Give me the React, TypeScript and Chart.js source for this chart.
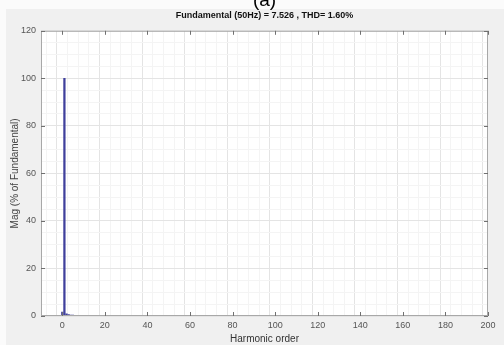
import React, { useEffect, useRef } from "react";
import { Chart, registerables } from "chart.js";

Chart.register(...registerables);

const harmonicOrders = [0, 1, 2, 3, 4, 5, 6, 7, 8, 9, 10];
const magnitudes = [1.6, 100, 0.9, 0.6, 0.4, 0.4, 0.2, 0.15, 0.1, 0.1, 0.1];
const panelLabel = "(a)";
const chartTitle = "Fundamental (50Hz) = 7.526 , THD= 1.60%";
const xTitle = "Harmonic order";
const yTitle = "Mag (% of Fundamental)";

const FONT = "'Liberation Sans', Arial, sans-serif";

const bgPlugin = {
  id: "bgPlugin",
  beforeDraw(chart: any) {
    const { ctx, chartArea, width, height } = chart;
    ctx.save();
    ctx.fillStyle = "#fbfbfb";
    ctx.fillRect(0, 0, width, height);
    ctx.fillStyle = "#f0f0f0";
    ctx.fillRect(6, 9, width - 6, height - 9);
    ctx.fillStyle = "#ffffff";
    ctx.fillRect(chartArea.left, chartArea.top, chartArea.right - chartArea.left, chartArea.bottom - chartArea.top);
    ctx.restore();
  },
  afterDraw(chart: any) {
    const { ctx, chartArea } = chart;
    const xs = chart.scales.x;
    const ys = chart.scales.y;
    ctx.save();
    ctx.strokeStyle = "#a8a8a8";
    ctx.lineWidth = 1;
    ctx.strokeRect(chartArea.left + 0.5, chartArea.top + 0.5, chartArea.right - chartArea.left - 1, chartArea.bottom - chartArea.top - 1);
    ctx.strokeStyle = "#707070";
    ctx.beginPath();
    for (let v = 0; v <= 200; v += 20) {
      const px = Math.round(xs.getPixelForValue(v)) + 0.5;
      ctx.moveTo(px, chartArea.top);
      ctx.lineTo(px, chartArea.top + 4);
      ctx.moveTo(px, chartArea.bottom);
      ctx.lineTo(px, chartArea.bottom - 4);
    }
    for (let v = 0; v <= 120; v += 20) {
      const py = Math.round(ys.getPixelForValue(v)) + 0.5;
      ctx.moveTo(chartArea.left, py);
      ctx.lineTo(chartArea.left + 4, py);
      ctx.moveTo(chartArea.right, py);
      ctx.lineTo(chartArea.right - 4, py);
    }
    ctx.stroke();
    ctx.restore();
  },
};

export default function App() {
  const ref = useRef<HTMLCanvasElement>(null);
  useEffect(() => {
    document.body.style.margin = "0";
    const chart = new Chart(ref.current!, {
      type: "bar",
      data: {
        datasets: [
          {
            data: harmonicOrders.map((h, i) => ({ x: h, y: magnitudes[i] })),
            backgroundColor: "#40409c",
            borderWidth: 0,
            barThickness: 1.6,
          } as any,
        ],
      },
      options: {
        animation: false,
        responsive: false,
        layout: { padding: { left: 0, right: 16, top: 0, bottom: 0 } },
        plugins: {
          legend: { display: false },
          tooltip: { enabled: false },
          title: {
            display: true,
            fullSize: false,
            text: panelLabel,
            color: "#000",
            font: { family: FONT, size: 19, weight: "normal", lineHeight: 1 },
            padding: { top: -9, bottom: 0 },
          },
          subtitle: {
            display: true,
            fullSize: false,
            text: chartTitle,
            color: "#111",
            font: { family: FONT, size: 9, weight: "bold" },
            padding: { top: 0, bottom: 10 },
          },
        },
        scales: {
          x: {
            type: "linear",
            min: -10,
            max: 200,
            offset: false,
            afterFit(scale: any) { scale.height = 29; },
            ticks: {
              stepSize: 5,
              autoSkip: false,
              maxRotation: 0,
              color: "#555",
              font: { family: FONT, size: 9 },
              padding: 4,
              callback: (v: any) => (Number(v) % 20 === 0 ? String(v) : ""),
            },
            grid: {
              drawTicks: false,
              color: (c: any) => (c.tick && c.tick.value % 20 === 0 ? "#e4e4e4" : "#f4f4f4"),
            },
            border: { display: false },
            title: {
              display: true,
              text: xTitle,
              color: "#333",
              font: { family: FONT, size: 10 },
              padding: { top: 0, bottom: 0 },
            },
          },
          y: {
            min: 0,
            max: 120,
            afterFit(scale: any) { scale.width = 41; },
            ticks: {
              stepSize: 5,
              autoSkip: false,
              color: "#555",
              font: { family: FONT, size: 9 },
              padding: 5,
              callback: (v: any) => (Number(v) % 20 === 0 ? String(v) : ""),
            },
            grid: {
              drawTicks: false,
              color: (c: any) => (c.tick && c.tick.value % 20 === 0 ? "#e4e4e4" : "#f4f4f4"),
            },
            border: { display: false },
            title: {
              display: true,
              text: yTitle,
              color: "#444",
              font: { family: FONT, size: 10 },
              padding: { top: 9, bottom: 0 },
            },
          },
        },
      },
      plugins: [bgPlugin],
    });
    return () => chart.destroy();
  }, []);
  return <canvas ref={ref} width={504} height={345} style={{ display: "block" }} />;
}
